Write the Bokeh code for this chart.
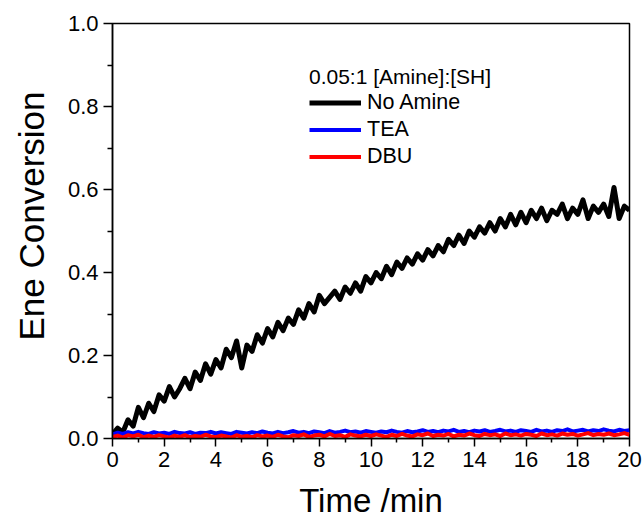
from bokeh.plotting import figure
from bokeh.models import FixedTicker, Legend, LegendItem, Title
from bokeh.embed import file_html
from bokeh.resources import INLINE

# ---------------- data ----------------
time_min = [
    0.0, 0.2, 0.4, 0.6, 0.8, 1.0, 1.2, 1.4, 1.6, 1.8,
    2.0, 2.2, 2.4, 2.6, 2.8, 3.0, 3.2, 3.4, 3.6, 3.8,
    4.0, 4.2, 4.4, 4.6, 4.8, 5.0, 5.2, 5.4, 5.6, 5.8,
    6.0, 6.2, 6.4, 6.6, 6.8, 7.0, 7.2, 7.4, 7.6, 7.8,
    8.0, 8.2, 8.4, 8.6, 8.8, 9.0, 9.2, 9.4, 9.6, 9.8,
    10.0, 10.2, 10.4, 10.6, 10.8, 11.0, 11.2, 11.4, 11.6, 11.8,
    12.0, 12.2, 12.4, 12.6, 12.8, 13.0, 13.2, 13.4, 13.6, 13.8,
    14.0, 14.2, 14.4, 14.6, 14.8, 15.0, 15.2, 15.4, 15.6, 15.8,
    16.0, 16.2, 16.4, 16.6, 16.8, 17.0, 17.2, 17.4, 17.6, 17.8,
    18.0, 18.2, 18.4, 18.6, 18.8, 19.0, 19.2, 19.4, 19.6, 19.8,
    20.0,
]

no_amine = [
    0.010, 0.025, 0.015, 0.045, 0.030, 0.075, 0.050, 0.085, 0.065, 0.105,
    0.090, 0.125, 0.100, 0.120, 0.145, 0.120, 0.160, 0.140, 0.180, 0.155,
    0.190, 0.170, 0.215, 0.195, 0.235, 0.170, 0.225, 0.210, 0.250, 0.230,
    0.265, 0.245, 0.280, 0.260, 0.290, 0.275, 0.310, 0.290, 0.325, 0.305,
    0.345, 0.325, 0.340, 0.355, 0.335, 0.365, 0.350, 0.375, 0.355, 0.390,
    0.375, 0.400, 0.385, 0.415, 0.395, 0.425, 0.410, 0.435, 0.420, 0.445,
    0.430, 0.455, 0.440, 0.465, 0.450, 0.480, 0.465, 0.490, 0.470, 0.500,
    0.485, 0.510, 0.495, 0.520, 0.500, 0.530, 0.510, 0.540, 0.515, 0.545,
    0.520, 0.550, 0.530, 0.555, 0.525, 0.550, 0.540, 0.565, 0.530, 0.555,
    0.540, 0.575, 0.530, 0.560, 0.545, 0.565, 0.535, 0.605, 0.530, 0.560,
    0.550,
]

tea = [
    0.010, 0.014, 0.011, 0.015, 0.012, 0.016, 0.013, 0.011, 0.015, 0.012,
    0.014, 0.011, 0.016, 0.013, 0.012, 0.015, 0.011, 0.014, 0.013, 0.016,
    0.012, 0.015, 0.013, 0.011, 0.016, 0.014, 0.012, 0.015, 0.013, 0.017,
    0.014, 0.012, 0.016, 0.013, 0.015, 0.018, 0.014, 0.016, 0.013, 0.017,
    0.015, 0.013, 0.018, 0.014, 0.016, 0.019, 0.015, 0.017, 0.014, 0.018,
    0.016, 0.014, 0.017, 0.015, 0.019, 0.016, 0.014, 0.018, 0.015, 0.017,
    0.020, 0.016, 0.018, 0.015, 0.019, 0.017, 0.021, 0.016, 0.018, 0.015,
    0.019, 0.017, 0.020, 0.016, 0.018, 0.021, 0.017, 0.019, 0.016, 0.020,
    0.018, 0.016, 0.021, 0.017, 0.019, 0.016, 0.020, 0.018, 0.022, 0.017,
    0.019, 0.021, 0.017, 0.020, 0.018, 0.022, 0.019, 0.017, 0.021, 0.018,
    0.020,
]

dbu = [
    0.004, 0.007, 0.002, 0.008, 0.005, 0.009, 0.003, 0.007, 0.004, 0.008,
    0.005, 0.002, 0.007, 0.004, 0.008, 0.003, 0.006, 0.004, 0.009, 0.005,
    0.003, 0.007, 0.005, 0.002, 0.008, 0.004, 0.006, 0.003, 0.008, 0.005,
    0.007, 0.004, 0.009, 0.005, 0.003, 0.008, 0.006, 0.010, 0.004, 0.007,
    0.009, 0.005, 0.011, 0.006, 0.008, 0.004, 0.010, 0.007, 0.005, 0.009,
    0.006, 0.010, 0.007, 0.004, 0.009, 0.006, 0.011, 0.007, 0.005, 0.010,
    0.008, 0.012, 0.006, 0.009, 0.007, 0.011, 0.005, 0.009, 0.007, 0.012,
    0.008, 0.006, 0.011, 0.008, 0.010, 0.006, 0.012, 0.008, 0.010, 0.007,
    0.011, 0.009, 0.006, 0.012, 0.008, 0.010, 0.007, 0.012, 0.009, 0.011,
    0.007, 0.010, 0.013, 0.008, 0.011, 0.009, 0.012, 0.008, 0.010, 0.013,
    0.009,
]

series_names = ["No Amine", "TEA", "DBU"]
legend_title = "0.05:1 [Amine]:[SH]"
x_major_ticks = [0, 2, 4, 6, 8, 10, 12, 14, 16, 18, 20]
x_minor_ticks = [1, 3, 5, 7, 9, 11, 13, 15, 17, 19]
y_major_ticks = [0.0, 0.2, 0.4, 0.6, 0.8, 1.0]
y_tick_labels = ["0.0", "0.2", "0.4", "0.6", "0.8", "1.0"]
y_minor_ticks = [0.1, 0.3, 0.5, 0.7, 0.9]
x_title = "Time /min"
y_title = "Ene Conversion"

FONT = "Liberation Sans"

# ---------------- figure ----------------
p = figure(
    frame_width=517, frame_height=415,
    min_border_left=111, min_border_right=16,
    min_border_top=23, min_border_bottom=87,
    x_range=(0, 20), y_range=(0, 1.0),
    output_backend="svg", toolbar_location=None,
)
p.background_fill_color = "white"
p.border_fill_color = "white"
p.outline_line_color = "black"
p.outline_line_width = 1.5
p.xgrid.visible = False
p.ygrid.visible = False

r_black = p.line(time_min, no_amine, line_color="black", line_width=5, line_join="round")
r_blue = p.line(time_min, tea, line_color="#0000ff", line_width=4, line_join="round")
r_red = p.line(time_min, dbu, line_color="#ff0000", line_width=4, line_join="round")

# axes
xa = p.xaxis[0]
xa.ticker = FixedTicker(ticks=x_major_ticks, minor_ticks=x_minor_ticks)
xa.axis_line_width = 1.5
xa.major_tick_line_width = 1.5
xa.minor_tick_line_width = 1.5
xa.major_tick_out = 8
xa.major_tick_in = 0
xa.minor_tick_out = 4
xa.minor_tick_in = 0
xa.major_label_standoff = 5
xa.major_label_text_font = FONT
xa.major_label_text_font_size = "22px"
xa.major_label_text_color = "black"
xa.axis_label = x_title
xa.axis_label_text_font = FONT
xa.axis_label_text_font_size = "33px"
xa.axis_label_text_font_style = "normal"
xa.axis_label_text_color = "black"
xa.axis_label_standoff = 12

ya = p.yaxis[0]
ya.ticker = FixedTicker(ticks=y_major_ticks, minor_ticks=y_minor_ticks)
ya.major_label_overrides = {t: s for t, s in zip(y_major_ticks, y_tick_labels)}
ya.axis_line_width = 1.5
ya.major_tick_line_width = 1.5
ya.minor_tick_line_width = 1.5
ya.major_tick_out = 9
ya.major_tick_in = 0
ya.minor_tick_out = 5
ya.minor_tick_in = 0
ya.major_label_standoff = 5
ya.major_label_text_font = FONT
ya.major_label_text_font_size = "22px"
ya.major_label_text_color = "black"

# y-axis title as a side-panel title (allows placing it off-centre like the reference)
p.add_layout(Title(
    text=y_title, align="left", offset=98, vertical_align="top", standoff=23,
    text_font=FONT, text_font_size="35px", text_font_style="normal", text_color="black",
), "left")

legend = Legend(
    items=[
        LegendItem(label=series_names[0], renderers=[r_black]),
        LegendItem(label=series_names[1], renderers=[r_blue]),
        LegendItem(label=series_names[2], renderers=[r_red]),
    ],
    location=(197, 269),
    title=legend_title,
    title_text_font=FONT, title_text_font_size="21px", title_text_font_style="normal",
    title_text_color="black", title_standoff=1,
    label_text_font=FONT, label_text_font_size="21.5px", label_text_color="black",
    glyph_width=52, glyph_height=23, label_height=23, label_standoff=6,
    spacing=2, padding=0, margin=0,
    border_line_color=None, background_fill_alpha=0,
)
p.add_layout(legend, "center")

open("out.html", "w").write(file_html(p, INLINE))
